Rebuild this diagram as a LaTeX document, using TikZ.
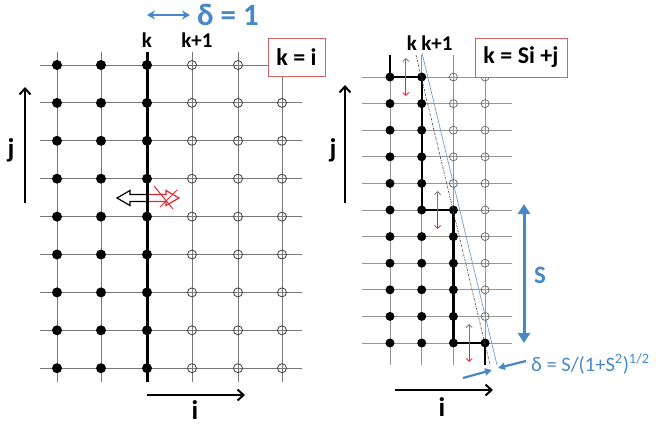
\documentclass[tikz,border=0pt]{standalone}
\usepackage{fontspec}
\setmainfont{Carlito}
\usetikzlibrary{arrows.meta}
\definecolor{dblue}{RGB}{72,136,200}
\definecolor{bred}{RGB}{214,96,100}
\definecolor{ared}{RGB}{225,40,50}
\definecolor{gline}{RGB}{120,120,120}
\definecolor{gline2}{RGB}{150,150,150}
\tikzset{
  fdot/.style={circle,fill=black,inner sep=0pt,minimum size=10pt},
  fdotr/.style={circle,fill=black,inner sep=0pt,minimum size=9pt},
  odot/.style={circle,draw=black!75,line width=0.8pt,inner sep=0pt,minimum size=9pt},
  odotr/.style={circle,draw=black!60,line width=0.7pt,inner sep=0pt,minimum size=8pt},
  gridl/.style={gline,line width=0.9pt},
  gridr/.style={gline2,line width=0.8pt},
  axarrow/.style={black,line width=2pt,-{Straight Barb[length=6pt,width=11pt,line width=2pt]}},
  lbl/.style={font=\bfseries\fontsize{21}{21}\selectfont,inner sep=0pt},
  biglbl/.style={font=\bfseries\fontsize{27}{27}\selectfont,inner sep=0pt},
  boxlbl/.style={draw=bred,line width=1pt,fill=white,inner sep=0pt,font=\bfseries\fontsize{24}{24}\selectfont},
  smallup/.style={gline,line width=0.8pt,-{Straight Barb[length=3pt,width=6pt]}},
  smalldn/.style={ared,line width=0.8pt,-{Straight Barb[length=3pt,width=6pt]}},
  bluearr/.style={dblue,line width=2.2pt,-{Triangle[length=7pt,width=7pt]}},
}
\begin{document}
\begin{tikzpicture}[x=1pt,y=-1pt]
\useasboundingbox (0,0) rectangle (656,426);
% ---------------- LEFT GRID ----------------
\foreach \r in {0,...,8}{
  \draw[gridl] (40,{65+37.9*\r}) -- (302,{65+37.9*\r});
}
\foreach \x in {57,101,192,238,282}{
  \draw[gridl] (\x,52) -- (\x,382);
}
\coordinate (ktop) at (147,52);
\coordinate (kbot) at (147,382);
\draw[black,line width=3pt] (ktop) -- (kbot);
\foreach \x [count=\ci] in {57,101,147}{
  \foreach \r in {0,...,8}{
    \node[fdot] (L\ci-\r) at (\x,{65+37.9*\r}) {};
  }
}
\foreach \x [count=\ci from 4] in {192,238,282}{
  \foreach \r in {0,...,8}{
    \node[odot] (L\ci-\r) at (\x,{65+37.9*\r}) {};
  }
}
% hollow arrows
\draw[black,line width=1.2pt,fill=white] (146,194.5) -- (130,194.5) -- (130,190.5) -- (117,198) -- (130,205.5) -- (130,201.5) -- (146,201.5);
\draw[ared,line width=1.2pt,fill=white] (149,194.5) -- (166,194.5) -- (166,190.5) -- (179,198) -- (166,205.5) -- (166,201.5) -- (149,201.5);
\draw[ared,line width=1pt] (154,186) -- (173,209);
\draw[ared,line width=1pt] (160,207) -- (177,190);
% labels left
\node[lbl] (kL) at (147,40) {k};
\node[lbl] (k1L) at (197,40) {k+1};
\coordinate (dA) at (147,15);
\coordinate (dB) at (190,15);
\draw[dblue,line width=2.2pt,{Stealth[length=8pt,width=9pt]}-{Stealth[length=8pt,width=9pt]}] (dA) -- (dB);
\node[font=\bfseries\fontsize{31}{31}\selectfont,text=dblue,anchor=west,inner sep=0pt] (d1) at (197,15) {δ = 1};
\node[boxlbl,minimum width=57pt,minimum height=38pt] (boxL) at (296.5,57) {k = i};
% j and i axes left
\coordinate (jLa) at (25,203);
\coordinate (jLb) at (25,87);
\draw[axarrow] (jLa) -- (jLb);
\node[biglbl] (jL) at (11,150) {j};
\coordinate (iLa) at (147,395);
\coordinate (iLb) at (245,395);
\draw[axarrow] (iLa) -- (iLb);
\node[biglbl] (iL) at (195,410) {i};
% ---------------- RIGHT GRID ----------------
\foreach \r in {0,...,10}{
  \draw[gridr] (362,{77+26.6*\r}) -- (512,{77+26.6*\r});
}
\foreach \x in {390,421.7,453.4,485.1}{
  \draw[gridr] (\x,55) -- (\x,365);
}
% staircase
\coordinate (s0) at (390,55);
\coordinate (s1) at (390,77);
\coordinate (s2) at (421.7,77);
\coordinate (s3) at (421.7,210);
\coordinate (s4) at (453.4,210);
\coordinate (s5) at (453.4,343);
\coordinate (s6) at (485.1,343);
\coordinate (s7) at (485.1,365);
\draw[black,line width=2.4pt] (s0) -- (s1) -- (s2) -- (s3) -- (s4) -- (s5) -- (s6) -- (s7);
% dots
\foreach \x [count=\ci] in {390,421.7}{
  \foreach \r in {0,...,10}{
    \node[fdotr] (R\ci-\r) at (\x,{77+26.6*\r}) {};
  }
}
\foreach \r in {0,...,4}{
  \node[odotr] (R3-\r) at (453.4,{77+26.6*\r}) {};
}
\foreach \r in {5,...,10}{
  \node[fdotr] (R3-\r) at (453.4,{77+26.6*\r}) {};
}
\foreach \r in {0,...,9}{
  \node[odotr] (R4-\r) at (485.1,{77+26.6*\r}) {};
}
\node[fdotr] (R4-10) at (485.1,343) {};
% slanted lines
\coordinate (dt) at (416,55);
\coordinate (db) at (490,365);
\draw[black!70,line width=0.7pt,dash pattern=on 2pt off 1.2pt on 0.6pt off 1.2pt] (dt) -- (db);
\coordinate (bt) at (422,53);
\coordinate (bb) at (497,365);
\draw[dblue!80,line width=0.7pt] (bt) -- (bb);
% small arrows
\foreach \x/\y in {405.8/77,437.5/210,469.2/343}{
  \coordinate (m) at (\x,\y);
  \draw[smallup] (m) -- ++(0,-19);
  \draw[smalldn] (m) -- ++(0,19);
}
% labels right
\node[lbl,anchor=base] (kR) at (412,50) {k};
\node[lbl,anchor=base] (k1R) at (437,50) {k+1};
\node[boxlbl,minimum width=92pt,minimum height=39pt] (boxR) at (521,57.5) {k = Si +j};
\coordinate (jRa) at (345,203);
\coordinate (jRb) at (345,85);
\draw[axarrow] (jRa) -- (jRb);
\node[biglbl] (jR) at (333,150) {j};
\coordinate (iRa) at (395,390);
\coordinate (iRb) at (493,390);
\draw[axarrow] (iRa) -- (iRb);
\node[biglbl] (iR) at (442,407) {i};
% S arrow
\coordinate (Sa) at (524,204);
\coordinate (Sb) at (524,343);
\draw[dblue,line width=3pt,{Triangle[length=10pt,width=12pt]}-{Triangle[length=10pt,width=12pt]}] (Sa) -- (Sb);
\node[font=\bfseries\fontsize{25}{25}\selectfont,text=dblue,inner sep=0pt] (Slbl) at (540,275) {S};
% delta arrows
\coordinate (a1s) at (463,378);
\coordinate (a1e) at (492,370);
\coordinate (a2s) at (526,361);
\coordinate (a2e) at (498,368);
\draw[bluearr] (a1s) -- (a1e);
\draw[bluearr] (a2s) -- (a2e);
\node[font=\fontsize{20.5}{20.5}\selectfont,text=dblue,anchor=west,inner sep=0pt] (form) at (531,364) {δ = S/(1+S\textsuperscript{2})\textsuperscript{1/2}};
\end{tikzpicture}
\end{document}
